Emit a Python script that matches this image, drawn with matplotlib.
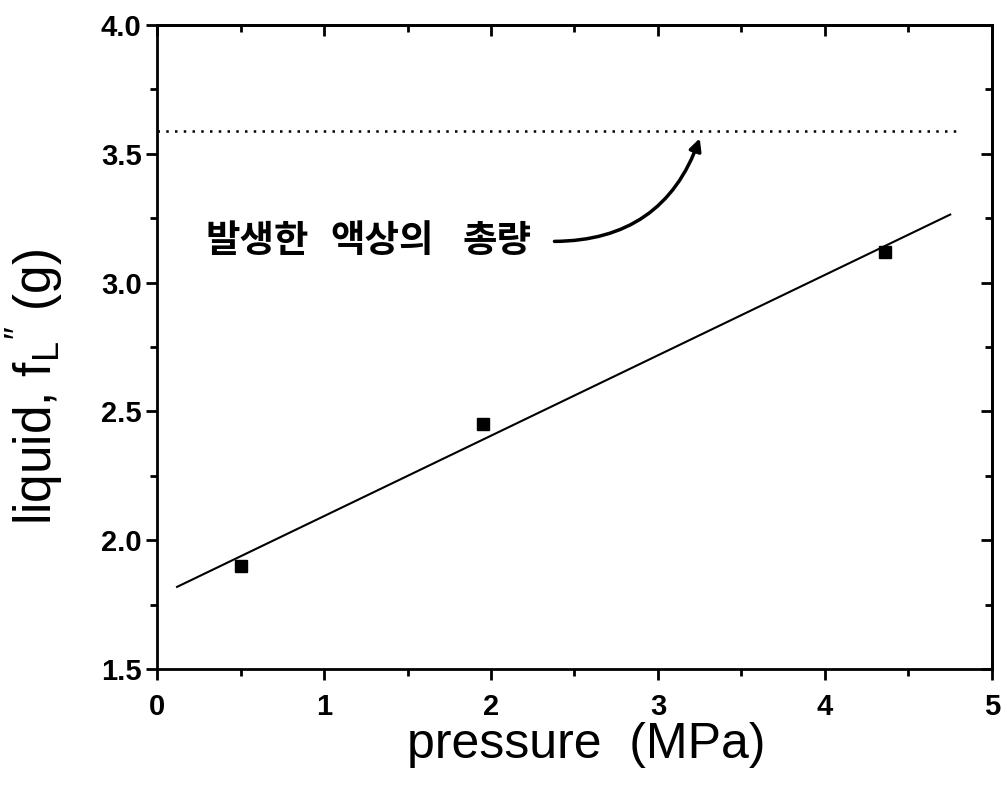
import numpy as np
import matplotlib
matplotlib.use("Agg")
import matplotlib.pyplot as plt
from matplotlib.ticker import MultipleLocator

# data
pressure = [0.50, 1.95, 4.36]
liquid = [1.90, 2.45, 3.12]
fit_range = [0.12, 4.75]
total_liquid = 3.59
total_range = [0.0, 4.82]
label_words = ["발생한", "액상의", "총량"]
label_x = [0.29, 1.04, 1.83]

plt.rcParams['font.family'] = ['Liberation Sans', 'DejaVu Sans']
plt.rcParams['mathtext.fontset'] = 'custom'
plt.rcParams['mathtext.rm'] = 'Liberation Sans'

fig = plt.figure(figsize=(10.02, 7.97), dpi=100)
ax = fig.add_axes([0.1567, 0.1606, 0.8333, 0.808])

# linear fit through the points
slope, intercept = np.polyfit(pressure, liquid, 1)
xf = np.array(fit_range)
ax.plot(xf, intercept + slope * xf, color='black', lw=1.5)
ax.plot(pressure, liquid, 's', color='black', ms=8.5)

# total amount line
ax.plot(total_range, [total_liquid, total_liquid], color='black', lw=1.8,
        linestyle=(0, (1, 2.5)))

# "발생한 액상의 총량" (words spaced as in the figure)
for w, x in zip(label_words, label_x):
    ax.text(x, 3.165, w, family=['Noto Sans CJK KR', 'DejaVu Sans'],
            fontsize=27, fontweight='bold', va='center', ha='left')
ax.annotate("", xy=(3.25, 3.56), xytext=(2.38, 3.16),
            arrowprops=dict(arrowstyle='-|>', color='black', lw=2.5,
                            mutation_scale=18,
                            connectionstyle='arc3,rad=0.35',
                            shrinkA=0, shrinkB=0))

ax.set_xlim(0, 5)
ax.set_ylim(1.5, 4.0)
ax.xaxis.set_major_locator(MultipleLocator(1))
ax.xaxis.set_minor_locator(MultipleLocator(0.5))
ax.yaxis.set_major_locator(MultipleLocator(0.5))
ax.yaxis.set_minor_locator(MultipleLocator(0.25))
ax.set_yticklabels([f"{v:.1f}" for v in ax.get_yticks()])

ax.tick_params(which='both', direction='out', top=False, right=False,
               labelsize=21, width=2)
ax.tick_params(which='major', length=8)
ax.tick_params(which='minor', length=5)
ax.tick_params(axis='x', pad=9)
ax.tick_params(axis='y', pad=3)
for lab in ax.get_xticklabels() + ax.get_yticklabels():
    lab.set_fontweight('bold')

# inward ticks on top and right
sec_x = ax.secondary_xaxis('top')
sec_x.xaxis.set_major_locator(MultipleLocator(1))
sec_x.xaxis.set_minor_locator(MultipleLocator(0.5))
sec_x.tick_params(which='both', direction='in', labeltop=False, width=2)
sec_x.tick_params(which='major', length=8)
sec_x.tick_params(which='minor', length=5)
sec_y = ax.secondary_yaxis('right')
sec_y.yaxis.set_major_locator(MultipleLocator(0.5))
sec_y.yaxis.set_minor_locator(MultipleLocator(0.25))
sec_y.tick_params(which='both', direction='in', labelright=False, width=2)
sec_y.tick_params(which='major', length=8)
sec_y.tick_params(which='minor', length=5)
for s in list(ax.spines.values()) + [sec_x.spines['top'], sec_y.spines['right']]:
    s.set_linewidth(2)

fig.text(0.585, 0.065, "pressure  (MPa)", fontsize=36, ha='center', va='center')
fig.text(0.035, 0.514, r"liquid, f$_{\mathrm{L}}$$^{\prime\prime}$ (g)",
         fontsize=37, rotation=90, ha='center', va='center')

fig.savefig("out.png", dpi=100)
